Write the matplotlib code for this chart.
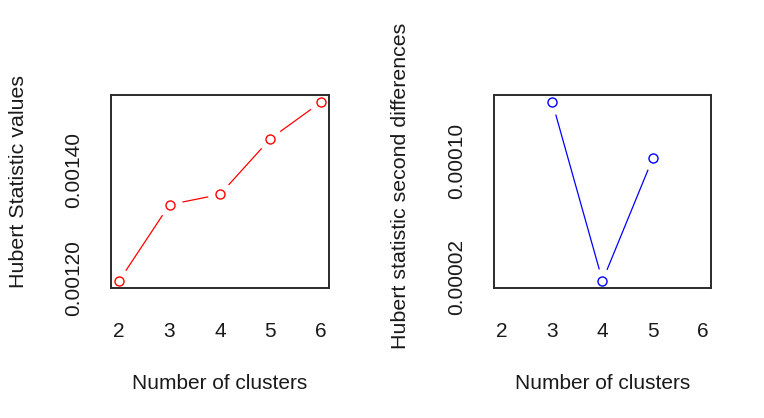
import matplotlib.pyplot as plt

plt.rcParams['font.family'] = ['Liberation Sans', 'DejaVu Sans']

clusters = [2, 3, 4, 5, 6]
hubert_values = [0.001194, 0.001336, 0.001355, 0.001459, 0.001527]

diff_clusters = [3, 4, 5]
hubert_second_diff = [0.0001405, 0.0000170, 0.0001016]

x_ticks = [2, 3, 4, 5, 6]
left_yticks = [0.0012, 0.0014]
left_ylabels = ['0.00120', '0.00140']
right_yticks = [0.00002, 0.00010]
right_ylabels = ['0.00002', '0.00010']


def r_limits(vals):
    lo, hi = min(vals), max(vals)
    pad = (hi - lo) * 0.04
    return lo - pad, hi + pad


def panel(ax, x, y, color, ylabel, yticks, ylabels):
    ax.plot(x, y, color=color, lw=0.9, zorder=1)
    # white halo so the line stops short of each point, like R type="b"
    ax.plot(x, y, ls='none', marker='o', ms=18, mfc='white', mec='none', zorder=1.5)
    ax.plot(x, y, ls='none', marker='o', ms=6.5, mfc='white', mec=color, mew=1.0, zorder=2)
    ax.set_xlim(1.84, 6.16)
    ax.set_ylim(*r_limits(y))
    ax.set_xticks(x_ticks)
    ax.set_yticks(yticks)
    ax.set_yticklabels(ylabels, rotation=90, va='center')
    ax.tick_params(length=0, labelsize=15, colors='#1a1a1a')
    ax.tick_params(axis='x', pad=24.5)
    ax.tick_params(axis='y', pad=20)
    for s in ax.spines.values():
        s.set_linewidth(1.4)
        s.set_color('#2b2b2b')
        s.set_zorder(3)
    ax.set_xlabel('Number of clusters', fontsize=15, color='#1a1a1a', labelpad=24)
    ax.set_ylabel(ylabel, fontsize=15.4, color='#1a1a1a')


fig = plt.figure(figsize=(7.64, 4.18), dpi=100)
ax1 = fig.add_axes([0.1453, 0.311, 0.2853, 0.4617])
ax2 = fig.add_axes([0.6466, 0.311, 0.284, 0.4617])

panel(ax1, clusters, hubert_values, 'red', 'Hubert Statistic values', left_yticks, left_ylabels)
panel(ax2, diff_clusters, hubert_second_diff, 'blue', 'Hubert statistic second differences',
      right_yticks, right_ylabels)

ax1.yaxis.set_label_coords(-0.38, 0.55)
ax2.yaxis.set_label_coords(-0.385, 0.53)

fig.savefig('out.png', dpi=100)
